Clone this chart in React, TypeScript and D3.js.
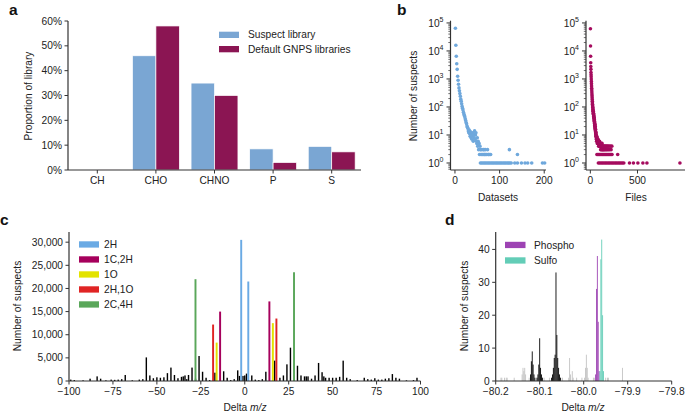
import * as d3 from "d3";

const FONT = "Liberation Sans, Arial, Helvetica, sans-serif";
const AXIS = "#333";
const TEXT = "#222";
const FS = 10.2;

// ---- panel a: element composition
const elementGroups = ["CH", "CHO", "CHNO", "P", "S"];
const suspectShare = [0, 0.46, 0.35, 0.085, 0.095];
const gnpsShare = [0.003, 0.58, 0.3, 0.03, 0.073];
const shareTicks = [0, 0.1, 0.2, 0.3, 0.4, 0.5, 0.6];

// ---- panel b: suspects per dataset / per file  [count of datasets|files, number of suspects]
const datasetsCurve: [number, number][] = [
  [1, 65000], [2, 16000], [3, 6500], [4, 3500], [5, 2200], [6, 1250], [7, 900], [8, 650],
  [9, 480], [10, 380], [11, 300], [12, 240], [13, 190], [14, 160], [15, 130], [16, 105],
  [17, 90], [18, 78], [19, 65], [20, 56], [21, 50], [22, 45], [23, 38], [24, 33], [25, 28],
  [26, 25], [27, 21], [28, 19], [29, 17], [30, 14], [31, 12], [32, 15], [33, 11], [34, 9],
  [35, 13], [36, 8], [37, 10], [38, 7], [39, 12], [40, 9], [41, 6], [42, 11], [43, 8],
  [44, 14], [45, 7], [46, 10], [47, 12], [48, 6], [49, 5], [50, 8], [51, 4], [52, 6],
  [53, 3], [54, 5], [55, 2], [56, 4], [57, 3], [58, 2], [59, 3], [60, 2], [62, 2], [63, 3],
  [64, 2], [65, 3], [66, 2], [67, 2], [68, 3], [69, 2], [70, 2], [72, 2], [73, 3], [75, 2],
  [76, 2], [78, 2], [80, 2], [122, 3], [140, 2],
];
const datasetsSingles = [
  57, 60, 63, 66, 69, 72, 75, 78, 81, 84, 87, 90, 93, 96, 99, 102, 105, 108, 111, 114, 117,
  120, 123, 126, 134, 140, 149, 157, 163, 172, 196, 201,
];
const filesCurve: [number, number][] = [
  [1, 62000], [2, 15000], [3, 6500], [4, 3800], [5, 2800], [6, 2200], [7, 1700], [8, 1400],
  [9, 1200], [10, 1000], [11, 820], [12, 680], [13, 560], [14, 470], [15, 400], [16, 340],
  [17, 290], [18, 250], [19, 215], [20, 185], [21, 160], [22, 140], [23, 125], [24, 110],
  [25, 100], [26, 95], [27, 80], [28, 85], [29, 72], [30, 66], [31, 70], [32, 58], [33, 55],
  [34, 60], [35, 48], [36, 45], [37, 50], [38, 40], [39, 38], [40, 42], [41, 33], [42, 30],
  [43, 35], [44, 27], [45, 25], [46, 29], [47, 22], [48, 20], [49, 24], [50, 18], [51, 17],
  [52, 20], [53, 15], [54, 14], [55, 16], [56, 12], [57, 13], [58, 11], [59, 10], [60, 12],
  [61, 9], [62, 10], [63, 8], [64, 9], [65, 7], [66, 8], [67, 6], [68, 9], [69, 7], [70, 6],
  [72, 8], [74, 5], [76, 7], [78, 6], [80, 5], [82, 7], [84, 6], [86, 5], [88, 4], [90, 6],
  [92, 5], [94, 4], [96, 5], [98, 6], [100, 4], [103, 5], [106, 4], [109, 3], [112, 5],
  [115, 4], [118, 3], [121, 4], [124, 5], [127, 3], [130, 4], [134, 3], [138, 4], [142, 3],
  [146, 4], [150, 3], [155, 4], [160, 3], [165, 4], [170, 3], [175, 4], [180, 3], [186, 4],
  [192, 3], [198, 4], [205, 3], [212, 4], [220, 3], [228, 4], [290, 2],
];
const filesDoubles = [70, 80, 90, 100, 110, 120, 130, 140, 150, 160, 170, 180, 190, 200, 210, 220, 230];
const filesSingles = [
  85, 100, 115, 130, 145, 160, 175, 190, 205, 220, 235, 250, 265, 280, 295, 310, 325, 340, 355,
  415, 457, 504, 557, 600, 950,
];
const logMajors = [0, 1, 2, 3, 4, 5];

// ---- panel c: delta m/z of modifications
const modLabels = ["2H", "1C,2H", "1O", "2H,1O", "2C,4H"];
const modColors = ["#6aaae4", "#a6005c", "#e3e300", "#e02424", "#5aa75a"];
const modDeltas = [
  [-2.016, 2.016], [-14.016, 14.016], [-15.995, 15.995], [-18.011, 18.011], [-28.031, 28.031],
];
const modCounts = [[30500, 21500], [15000, 17200], [8300, 12500], [12200, 13500], [22000, 23500]];
const otherDeltas = [
  -99, -97, -92, -88, -84, -82, -79, -76, -74, -72, -70, -68, -64, -60, -58, -56, -54, -52,
  -50, -48, -46, -44, -42, -40, -38, -36, -35, -34, -33, -32, -30, -28, -26, -24, -22, -20,
  -17, -12, -10, -8, -6, -4, -3, -1, 0, 1, 4, 6, 8, 10, 12, 17, 20, 22, 24, 26, 30, 32, 34,
  35, 36, 38, 40, 42, 44, 45, 46, 48, 50, 52, 54, 56, 58, 60, 64, 68, 70, 72, 74, 76, 78, 80,
  82, 84, 86, 88, 92, 96, 98,
];
const otherCounts = [
  300, 200, 150, 500, 1000, 500, 150, 300, 250, 300, 400, 1300, 150, 300, 400, 5100, 1200, 600,
  800, 700, 800, 1700, 2900, 1300, 600, 900, 1000, 1200, 400, 1300, 2900, 500, 5400, 2000, 700, 200,
  1800, 2100, 700, 200, 400, 2300, 1100, 1100, 1200, 1600, 1200, 300, 200, 400, 2000, 4400, 700,
  1200, 3600, 7200, 3300, 1200, 1000, 1000, 1000, 500, 1200, 3900, 1900, 1000, 700, 700, 700,
  700, 900, 4400, 700, 400, 200, 700, 400, 300, 600, 300, 300, 500, 600, 1500, 700, 500, 150,
  200, 700,
];
const cXTicks = [-100, -75, -50, -25, 0, 25, 50, 75, 100];
const cYTicks = [0, 5000, 10000, 15000, 20000, 25000, 30000];

// ---- panel d: histogram around -80 Da  [bin centre, number of suspects]
const otherBins: [number, number][] = [
  [-80.188, 1], [-80.186, 1], [-80.18, 1], [-80.176, 1], [-80.174, 1], [-80.158, 1],
  [-80.14, 2], [-80.138, 4], [-80.136, 3], [-80.134, 4], [-80.132, 2], [-80.124, 1],
  [-80.108, 1], [-80.094, 1], [-80.09, 1], [-80.078, 1], [-80.052, 1], [-80.048, 1],
  [-80.034, 1], [-80.032, 7], [-80.03, 2], [-80.026, 3], [-80.024, 1], [-80.016, 1],
  [-80.004, 1], [-79.998, 1], [-79.996, 4], [-79.994, 8], [-79.992, 4], [-79.99, 1],
  [-79.978, 1], [-79.976, 1], [-79.95, 1], [-79.946, 1], [-79.944, 1], [-79.912, 4],
];
const clusterBins: [number, number][] = [
  [-80.121, 2], [-80.119, 6], [-80.117, 9], [-80.115, 5], [-80.113, 2], [-80.111, 1],
  [-80.106, 1], [-80.104, 2], [-80.102, 5], [-80.1, 13], [-80.098, 4], [-80.096, 2], [-80.094, 1],
  [-80.073, 1], [-80.071, 2], [-80.069, 4], [-80.067, 7], [-80.065, 8], [-80.063, 33],
  [-80.061, 14], [-80.059, 7], [-80.057, 4], [-80.055, 2], [-80.053, 1],
];
const phosphoBins: [number, number][] = [
  [-79.973, 2], [-79.971, 28], [-79.969, 38], [-79.967, 18], [-79.965, 3],
];
const sulfoBins: [number, number][] = [
  [-79.963, 3], [-79.961, 37], [-79.959, 43], [-79.957, 20], [-79.955, 3],
];
const dXTicks = [-80.2, -80.1, -80.0, -79.9, -79.8];
const dYTicks = [0, 10, 20, 30, 40];
const binWidth = 0.002;

const suspectColor = "#7aa6d3";
const gnpsColor = "#8b1553";
const datasetsColor = "#6fa8dc";
const filesColor = "#a50b5e";
const phosphoColor = "#9d43b3";
const sulfoColor = "#63cdb7";

const txt = { fontFamily: FONT, fontSize: FS, fill: TEXT };

function YTicks({ x, ticks, y, label }: { x: number; ticks: number[]; y: (v: number) => number; label: (v: number) => string }) {
  return (
    <g>
      {ticks.map((t) => (
        <g key={t}>
          <line x1={x - 3.5} x2={x} y1={y(t)} y2={y(t)} stroke={AXIS} strokeWidth={1} />
          <text {...txt} x={x - 6} y={y(t) + 3.6} textAnchor="end">{label(t)}</text>
        </g>
      ))}
    </g>
  );
}

function XTicks({ y, ticks, x, label }: { y: number; ticks: any[]; x: (v: any) => number; label: (v: any) => string }) {
  return (
    <g>
      {ticks.map((t) => (
        <g key={String(t)}>
          <line x1={x(t)} x2={x(t)} y1={y} y2={y + 3.5} stroke={AXIS} strokeWidth={1} />
          <text {...txt} x={x(t)} y={y + 14} textAnchor="middle">{label(t)}</text>
        </g>
      ))}
    </g>
  );
}

function LogAxis({ x, scale }: { x: number; scale: d3.ScaleLogarithmic<number, number> }) {
  const all = scale.ticks();
  return (
    <g>
      {all.map((t) => {
        const major = Math.abs(Math.log10(t) - Math.round(Math.log10(t))) < 1e-9;
        return (
          <line key={t} x1={x - (major ? 4 : 2.2)} x2={x} y1={scale(t)} y2={scale(t)} stroke={AXIS} strokeWidth={major ? 1 : 0.7} />
        );
      })}
      {logMajors.map((e) => (
        <text key={e} {...txt} x={x - 7} y={scale(10 ** e) + 4} textAnchor="end">
          10<tspan dy={-4.5} fontSize={7}>{e}</tspan>
        </text>
      ))}
    </g>
  );
}

function PanelA() {
  const x = d3.scaleBand<string>().domain(elementGroups).range([68, 361]);
  const y = d3.scaleLinear().domain([0, 0.6]).range([170, 21]);
  const bw = x.bandwidth() * 0.4;
  const centre = (c: string) => (x(c) ?? 0) + x.bandwidth() / 2;
  return (
    <g>
      {elementGroups.map((c, i) => (
        <g key={c}>
          <rect x={centre(c) - bw} y={y(suspectShare[i])} width={bw} height={y(0) - y(suspectShare[i])} fill={suspectColor} stroke="#fff" strokeWidth={0.7} />
          <rect x={centre(c)} y={y(gnpsShare[i])} width={bw} height={y(0) - y(gnpsShare[i])} fill={gnpsColor} stroke="#fff" strokeWidth={0.7} />
        </g>
      ))}
      <line x1={68} x2={68} y1={21} y2={170} stroke={AXIS} strokeWidth={1.2} />
      <line x1={68} x2={361} y1={170} y2={170} stroke={AXIS} strokeWidth={1.2} />
      <YTicks x={68} ticks={shareTicks} y={y} label={d3.format(".0%")} />
      <XTicks y={170} ticks={elementGroups} x={centre} label={(c) => c} />
      <text {...txt} transform="translate(31.5,96) rotate(-90)" textAnchor="middle">Proportion of library</text>
      <rect x={219} y={31.7} width={20} height={6.3} fill={suspectColor} />
      <rect x={219} y={46} width={20} height={6.3} fill={gnpsColor} />
      <text {...txt} x={248} y={38.2}>Suspect library</text>
      <text {...txt} x={248} y={52.5}>Default GNPS libraries</text>
    </g>
  );
}

function PanelB() {
  const y = d3.scaleLog().domain([10 ** -0.25, 10 ** 5.08]).range([170, 20.7]);
  const x1 = d3.scaleLinear().domain([-10, 204]).range([450.5, 546]);
  const x2 = d3.scaleLinear().domain([-46, 990]).range([586, 683.7]);
  const r = 1.8;
  return (
    <g>
      {datasetsCurve.map(([d, n], i) => (
        <circle key={"dc" + i} cx={x1(d)} cy={y(n)} r={r} fill={datasetsColor} />
      ))}
      {datasetsSingles.map((d, i) => (
        <circle key={"ds" + i} cx={x1(d)} cy={y(1)} r={r} fill={datasetsColor} />
      ))}
      {filesCurve.map(([d, n], i) => (
        <circle key={"fc" + i} cx={x2(d)} cy={y(n)} r={r} fill={filesColor} />
      ))}
      {filesDoubles.map((d, i) => (
        <circle key={"fd" + i} cx={x2(d)} cy={y(2)} r={r} fill={filesColor} />
      ))}
      {filesSingles.map((d, i) => (
        <circle key={"fs" + i} cx={x2(d)} cy={y(1)} r={r} fill={filesColor} />
      ))}
      <line x1={450.5} x2={450.5} y1={20.7} y2={170} stroke={AXIS} strokeWidth={1.2} />
      <line x1={450.5} x2={546} y1={170} y2={170} stroke={AXIS} strokeWidth={1.2} />
      <LogAxis x={450.5} scale={y} />
      <XTicks y={170} ticks={[0, 100, 200]} x={x1} label={(v) => String(v)} />
      <line x1={586} x2={586} y1={20.7} y2={170} stroke={AXIS} strokeWidth={1.2} />
      <line x1={586} x2={685} y1={170} y2={170} stroke={AXIS} strokeWidth={1.2} />
      <LogAxis x={586} scale={y} />
      <XTicks y={170} ticks={[0, 500]} x={x2} label={(v) => String(v)} />
      <text {...txt} transform="translate(417,96) rotate(-90)" textAnchor="middle">Number of suspects</text>
      <text {...txt} x={498} y={201} textAnchor="middle">Datasets</text>
      <text {...txt} x={636} y={201} textAnchor="middle">Files</text>
    </g>
  );
}

function PanelC() {
  const x = d3.scaleLinear().domain([-100, 100]).range([69, 420.5]);
  const y = d3.scaleLinear().domain([0, 32200]).range([381, 232]);
  const unit = x(1) - x(0);
  return (
    <g>
      {otherDeltas.map((d, i) => (
        <rect key={"o" + i} x={x(d) - unit * 0.4} y={y(otherCounts[i])} width={unit * 0.8} height={y(0) - y(otherCounts[i])} fill="#000" />
      ))}
      {modDeltas.map((pair, m) =>
        pair.map((d, k) => (
          <rect key={m + "-" + k} x={x(d) - unit * 0.55} y={y(modCounts[m][k])} width={unit * 1.1} height={y(0) - y(modCounts[m][k])} fill={modColors[m]} />
        ))
      )}
      <line x1={69} x2={69} y1={232} y2={381} stroke={AXIS} strokeWidth={1.2} />
      <line x1={69} x2={420.5} y1={381} y2={381} stroke={AXIS} strokeWidth={1.2} />
      <YTicks x={69} ticks={cYTicks} y={y} label={d3.format(",")} />
      <XTicks y={381} ticks={cXTicks} x={x} label={d3.format("d")} />
      {modLabels.map((l, i) => (
        <g key={l}>
          <rect x={79} y={241.3 + i * 15} width={20} height={6.3} fill={modColors[i]} />
          <text {...txt} x={104} y={248 + i * 15}>{l}</text>
        </g>
      ))}
      <text {...txt} transform="translate(21,306) rotate(-90)" textAnchor="middle">Number of suspects</text>
      <text {...txt} x={245} y={411} textAnchor="middle">
        Delta <tspan fontStyle="italic">m/z</tspan>
      </text>
    </g>
  );
}

function PanelD() {
  const x = d3.scaleLinear().domain([-80.2, -79.8]).range([495.7, 671.7]);
  const y = d3.scaleLinear().domain([0, 45.3]).range([381, 232]);
  const w = x(binWidth) - x(0);
  const bars = (bins: [number, number][], fill: string, key: string) =>
    bins.map(([c, n], i) => (
      <rect key={key + i} x={x(c) - w / 2} y={y(n)} width={w} height={y(0) - y(n)} fill={fill} />
    ));
  return (
    <g>
      {bars(otherBins, "#c2c2c2", "g")}
      {bars(clusterBins, "#000", "k")}
      {bars(phosphoBins, phosphoColor, "p")}
      {bars(sulfoBins, sulfoColor, "s")}
      <line x1={495.7} x2={495.7} y1={232} y2={381} stroke={AXIS} strokeWidth={1.2} />
      <line x1={495.7} x2={671.7} y1={381} y2={381} stroke={AXIS} strokeWidth={1.2} />
      <YTicks x={495.7} ticks={dYTicks} y={y} label={(v) => String(v)} />
      <XTicks y={381} ticks={dXTicks} x={x} label={d3.format(".1f")} />
      <rect x={505} y={241.8} width={20.5} height={6.3} fill={phosphoColor} />
      <rect x={505} y={257.3} width={20.5} height={6.3} fill={sulfoColor} />
      <text {...txt} x={534} y={248.5}>Phospho</text>
      <text {...txt} x={534} y={264}>Sulfo</text>
      <text {...txt} transform="translate(468,306) rotate(-90)" textAnchor="middle">Number of suspects</text>
      <text {...txt} x={583} y={411} textAnchor="middle">
        Delta <tspan fontStyle="italic">m/z</tspan>
      </text>
    </g>
  );
}

export default function App() {
  const lab = { fontFamily: FONT, fontSize: 15.5, fontWeight: 700, fill: "#111" };
  return (
    <svg width={685} height={414} style={{ position: "absolute", left: 0, top: 0, background: "#fff" }}>
      <PanelA />
      <PanelB />
      <PanelC />
      <PanelD />
      <text {...lab} x={9} y={14.5}>a</text>
      <text {...lab} x={397} y={14.5}>b</text>
      <text {...lab} x={0} y={225}>c</text>
      <text {...lab} x={445} y={225}>d</text>
    </svg>
  );
}
